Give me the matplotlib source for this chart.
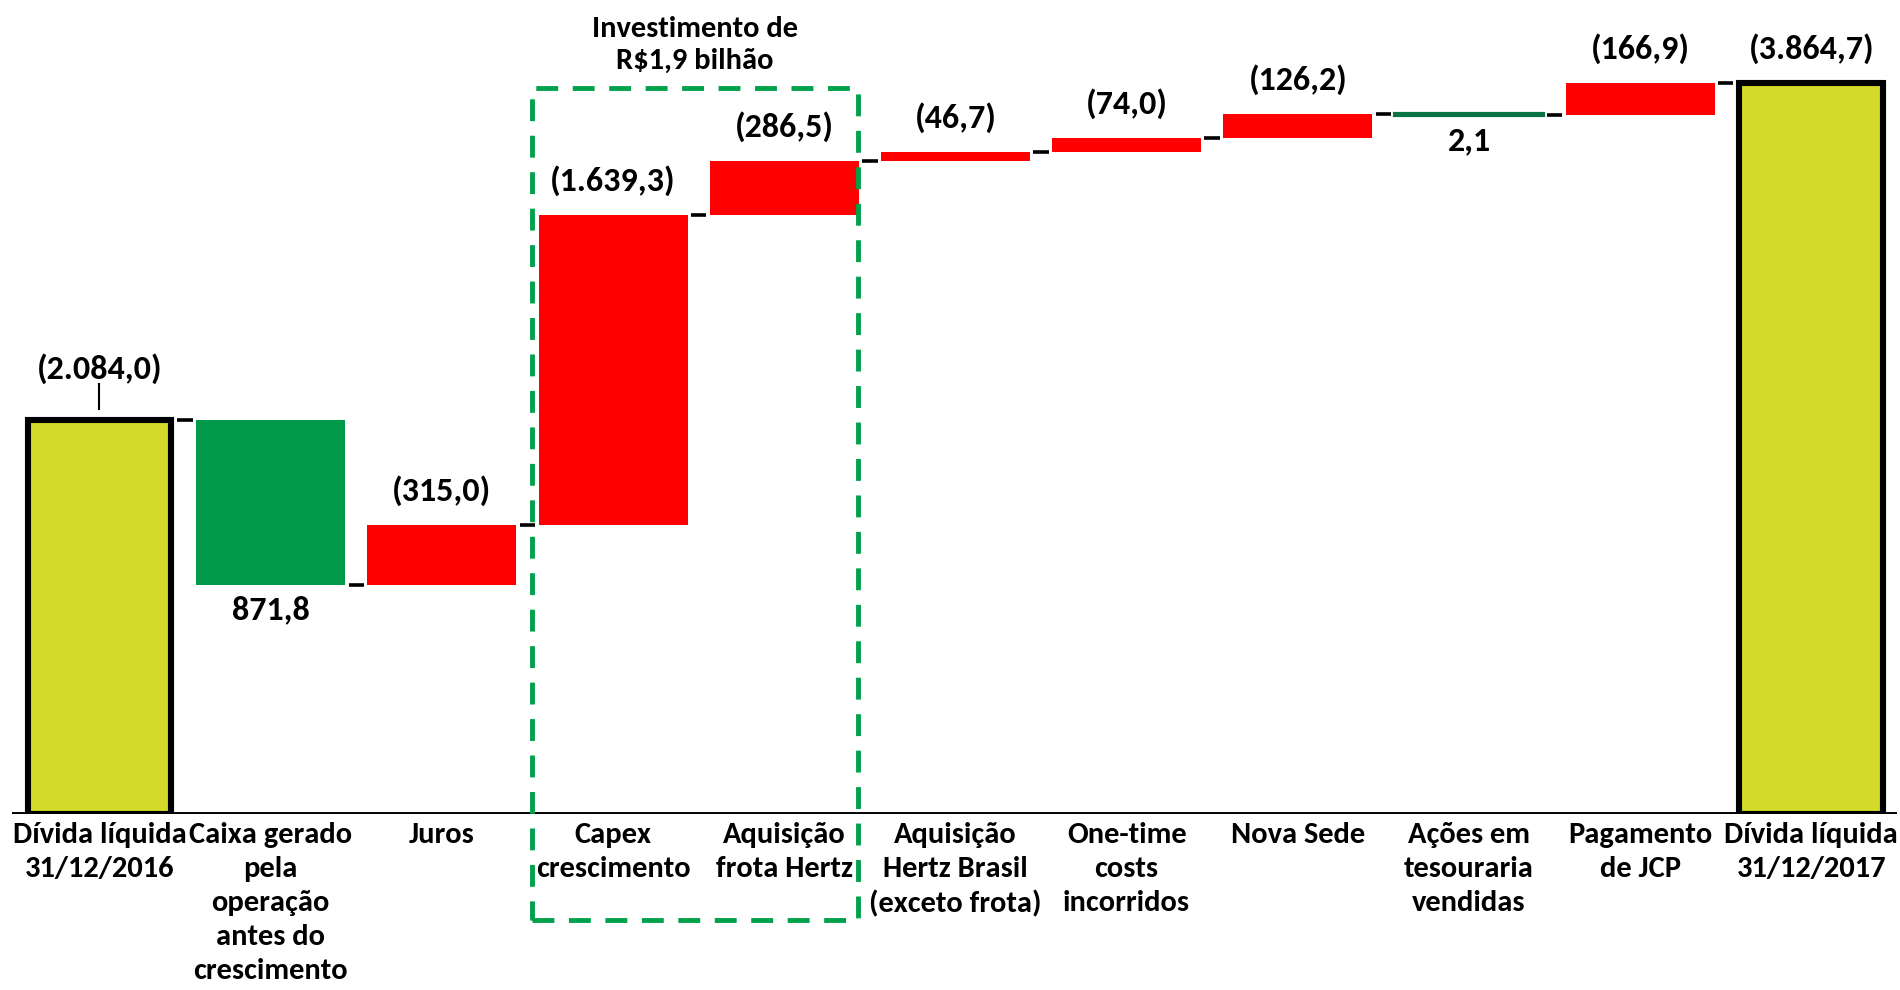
import numpy as np
import matplotlib
matplotlib.use('Agg')
import matplotlib.pyplot as plt
import matplotlib.patches as patches

#------------------------------------------------------------------------------
#   Data
#------------------------------------------------------------------------------
categories = ['Dívida líquida\n31/12/2016',
              'Caixa gerado\npela\noperação\nantes do\ncrescimento',
              'Juros',
              'Capex\ncrescimento',
              'Aquisição\nfrota Hertz',
              'Aquisição\nHertz Brasil\n(exceto frota)',
              'One-time\ncosts\nincorridos',
              'Nova Sede',
              'Ações em\ntesouraria\nvendidas',
              'Pagamento\nde JCP',
              'Dívida líquida\n31/12/2017']
values = [2084.0, -871.8, 315.0, 1639.3, 286.5, 46.7, 74.0, 126.2, -2.1, 166.9, 3864.7]
value_labels = ['(2.084,0)', '871,8', '(315,0)', '(1.639,3)', '(286,5)', '(46,7)',
                '(74,0)', '(126,2)', '2,1', '(166,9)', '(3.864,7)']
is_total = [True, False, False, False, False, False, False, False, False, False, True]
group_title = 'Investimento de\nR$1,9 bilhão'
group_bars = [3, 4]

#------------------------------------------------------------------------------
#   Styles
#------------------------------------------------------------------------------
plt.rcParams['font.family'] = ['Carlito', 'Open Sans Condensed', 'DejaVu Sans']
plt.rcParams['font.weight'] = 'bold'

c_total = '#D4DA28'
c_down = '#00994A'
c_up = '#FF0000'
c_small = '#0B7444'
bar_w = 0.87

#------------------------------------------------------------------------------
#   Waterfall geometry
#------------------------------------------------------------------------------
bottoms, heights = [], []
running = 0.0
for v, tot in zip(values, is_total):
    if tot:
        bottoms.append(0.0)
        heights.append(v)
        running = v
    else:
        bottoms.append(min(running, running + v))
        heights.append(abs(v))
        running += v
bottoms = np.array(bottoms)
heights = np.array(heights)
tops = bottoms + heights
x = np.arange(len(values))

fig = plt.figure(figsize=(19, 9.9), dpi=100)
ax = fig.add_axes([0.0064, 0.178, 0.992, 0.802])

for i in x:
    if is_total[i]:
        ax.bar(i, heights[i], bottom=bottoms[i], width=bar_w - 0.03, color=c_total,
               edgecolor='black', linewidth=4.4, zorder=3)
    else:
        col = c_up if values[i] > 0 else c_down
        lw = 0
        if abs(values[i]) < 10:
            col = c_small
            lw = 3
        ax.bar(i, heights[i], bottom=bottoms[i], width=bar_w, color=col,
               edgecolor=col, linewidth=lw, zorder=3)

# connectors between bars (level after each bar)
for i in range(len(values) - 1):
    lvl = values[0] + sum(values[1:i + 1])
    ax.hlines(lvl, i + 0.455, i + 0.545, color='black', linewidth=2.6, zorder=4)

# value labels
for i in x:
    if i == 0:
        ax.annotate(value_labels[i], (i, tops[i]), xytext=(0, 26), textcoords='offset points',
                    ha='center', va='bottom', fontsize=24.5)
        ax.plot([i, i], [tops[i] + 58, tops[i] + 190], color='black', linewidth=1.5)
    elif values[i] < 0:
        ax.annotate(value_labels[i], (i, bottoms[i]), xytext=(0, -8), textcoords='offset points',
                    ha='center', va='top', fontsize=24.5)
    else:
        ax.annotate(value_labels[i], (i, tops[i]), xytext=(0, 14), textcoords='offset points',
                    ha='center', va='bottom', fontsize=24.5)

# dashed box around investment bars
x0 = group_bars[0] - 0.475
x1 = group_bars[-1] + 0.43
y_top = 3840
y_bot = -560
rect = patches.Rectangle((x0, y_bot), x1 - x0, y_top - y_bot, fill=False,
                         edgecolor='#00A14B', linewidth=3.5, linestyle=(0, (4.5, 3)),
                         clip_on=False, zorder=5)
ax.add_patch(rect)
ax.annotate(group_title, ((x0 + x1) / 2, y_top), xytext=(0, 10), textcoords='offset points',
            ha='center', va='bottom', fontsize=22, linespacing=1.3)

# baseline and axes cosmetics
ax.axhline(0, color='black', linewidth=2.8, zorder=4)
ax.set_xlim(-0.51, 10.5)
ax.set_ylim(0, 4200)
ax.set_xticks(x)
ax.set_xticklabels(categories, fontsize=22, linespacing=1.38)
ax.tick_params(axis='x', length=0, pad=6)
ax.set_yticks([])
for s in ax.spines.values():
    s.set_visible(False)

fig.savefig('out.png', dpi=100)
